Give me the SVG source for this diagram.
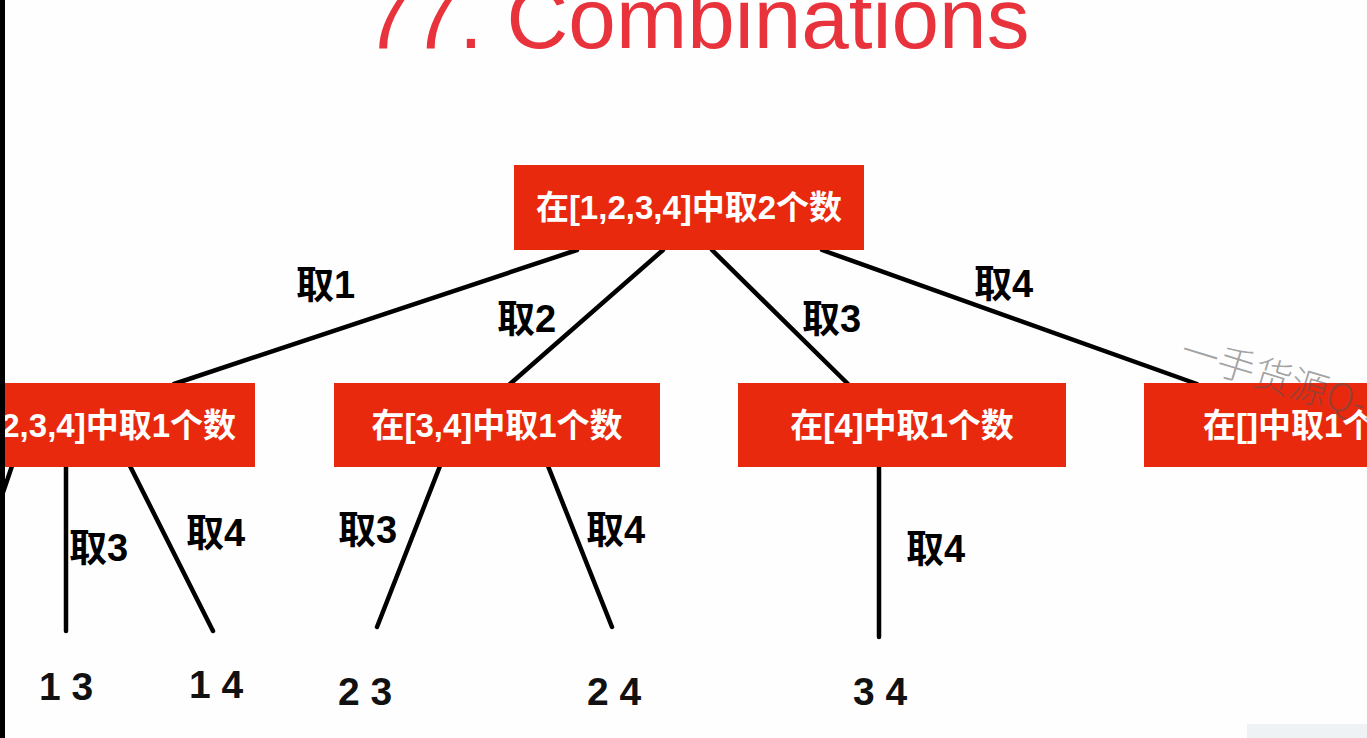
<svg xmlns="http://www.w3.org/2000/svg" width="1367" height="738" viewBox="0 0 1367 738">
<style>
.node{fill:#e8290d;}
.ntxt{fill:#ffffff;font-family:"Liberation Sans","Noto Sans CJK SC",sans-serif;font-weight:bold;font-size:33px;}
.edge{stroke:#000;stroke-width:4.5;stroke-linecap:round;fill:none;}
.lbl{fill:#000;font-family:"Liberation Sans","Noto Sans CJK SC",sans-serif;font-weight:bold;font-size:38px;}
.leaf{fill:#111;font-family:"Liberation Sans","Noto Sans CJK SC",sans-serif;font-weight:bold;font-size:39px;}
</style>
<rect x="0" y="0" width="1367" height="738" fill="#fefefe"/>
<text x="364" y="48" font-family="Liberation Sans, Arial, sans-serif" font-size="85.5" fill="#e8333c">77. Combinations</text>

<g id="connectors">
<line class="edge" x1="577" y1="250" x2="174" y2="384"/>
<line class="edge" x1="663" y1="250" x2="510" y2="384"/>
<line class="edge" x1="712" y1="250" x2="848" y2="384"/>
<line class="edge" x1="822" y1="250" x2="1197" y2="384"/>
<line class="edge" x1="12" y1="466" x2="-20" y2="560"/>
<line class="edge" x1="66" y1="466" x2="66" y2="631"/>
<line class="edge" x1="130" y1="466" x2="213" y2="631"/>
<line class="edge" x1="440" y1="466" x2="377" y2="627"/>
<line class="edge" x1="548" y1="466" x2="612" y2="627"/>
<line class="edge" x1="879" y1="466" x2="879" y2="637"/>
<text class="lbl" x="296" y="298">取1</text>
<text class="lbl" x="497" y="332">取2</text>
<text class="lbl" x="802" y="332">取3</text>
<text class="lbl" x="974" y="297">取4</text>
<text class="lbl" x="69" y="561">取3</text>
<text class="lbl" x="186" y="546">取4</text>
<text class="lbl" x="338" y="543">取3</text>
<text class="lbl" x="586" y="543">取4</text>
<text class="lbl" x="906" y="562">取4</text>
</g>

<g id="root">
<rect class="node" x="514" y="165" width="350" height="85"/>
<text class="ntxt" x="689" y="219" text-anchor="middle">在[1,2,3,4]中取2个数</text>
</g>
<g id="n234">
<rect class="node" x="-80" y="383" width="335" height="84"/>
<text class="ntxt" x="236" y="437" text-anchor="end">在[2,3,4]中取1个数</text>
</g>
<g id="n34">
<rect class="node" x="334" y="383" width="326" height="84"/>
<text class="ntxt" x="497" y="437" text-anchor="middle">在[3,4]中取1个数</text>
</g>
<g id="n4">
<rect class="node" x="738" y="383" width="328" height="84"/>
<text class="ntxt" x="902" y="437" text-anchor="middle">在[4]中取1个数</text>
</g>
<g id="nempty">
<rect class="node" x="1144" y="383" width="260" height="84"/>
<text class="ntxt" x="1203" y="437">在[]中取1个数</text>
</g>

<g id="leaves">
<text class="leaf" x="39" y="700">1 3</text>
<text class="leaf" x="189" y="698">1 4</text>
<text class="leaf" x="338" y="705">2 3</text>
<text class="leaf" x="587" y="705">2 4</text>
<text class="leaf" x="853" y="705">3 4</text>
</g>

<text x="1178" y="362" transform="rotate(17 1178 362)" font-family="Noto Sans CJK SC, sans-serif" font-weight="300" font-size="38" fill="#555" fill-opacity="0.55">一手货源Q-1</text>

<rect x="1247" y="724" width="120" height="14" fill="#eef2f5"/>
<rect x="0" y="0" width="5" height="738" fill="#000"/>
</svg>
